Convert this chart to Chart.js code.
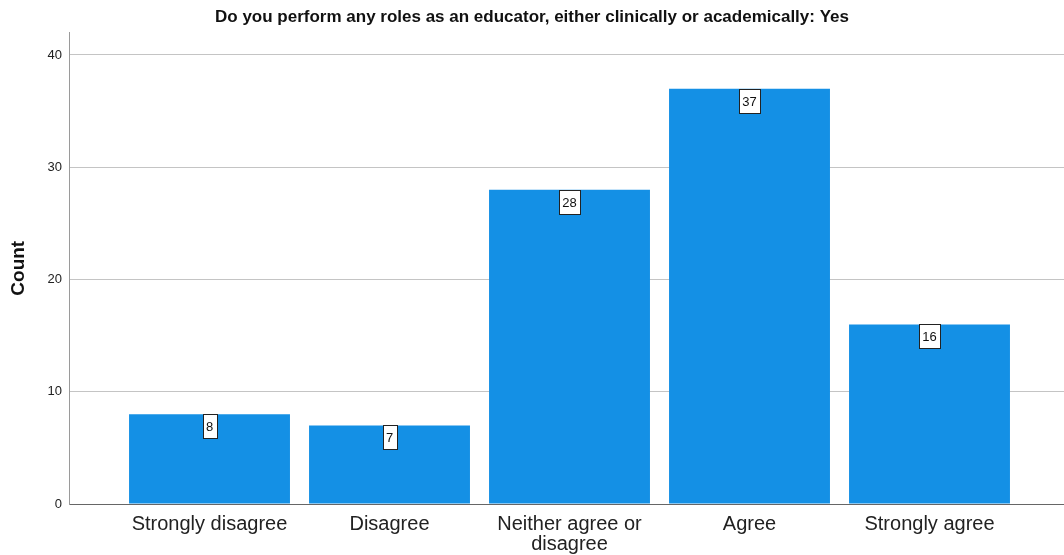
<!DOCTYPE html>
<html>
<head>
<meta charset="utf-8">
<script src="https://cdn.jsdelivr.net/npm/chart.js@4/dist/chart.umd.min.js"></script>
<style>
  html, body { margin: 0; padding: 0; background: #ffffff; }
  #wrap { width: 1064px; height: 555px; position: relative; }
</style>
</head>
<body>
<div id="wrap"><canvas id="c"></canvas></div>
<script>
const titleText = 'Do you perform any roles as an educator, either clinically or academically: Yes';
const categories = ['Strongly disagree', 'Disagree', ['Neither agree or', 'disagree'], 'Agree', 'Strongly agree'];
const counts = [8, 7, 28, 37, 16];
const yTicks = [0, 10, 20, 30, 40];

const FONT = "'Liberation Sans', Arial, Helvetica, sans-serif";

const valueBoxes = {
  id: 'valueBoxes',
  afterDatasetsDraw(chart) {
    const ctx = chart.ctx;
    const meta = chart.getDatasetMeta(0);
    ctx.save();
    ctx.font = '13px ' + FONT;
    ctx.textAlign = 'center';
    ctx.textBaseline = 'middle';
    meta.data.forEach((bar, i) => {
      const txt = String(counts[i]);
      const w = Math.round(ctx.measureText(txt).width + 7);
      const h = 24;
      const x = Math.round(bar.x - w / 2) + 0.5;
      const y = Math.round(bar.y) + 0.5;
      ctx.fillStyle = '#ffffff';
      ctx.fillRect(x, y, w, h);
      ctx.strokeStyle = '#222222';
      ctx.lineWidth = 1;
      ctx.strokeRect(x, y, w, h);
      ctx.fillStyle = '#111111';
      ctx.fillText(txt, bar.x, y + h / 2 + 0.5);
    });
    ctx.restore();
  }
};

new Chart(document.getElementById('c'), {
  type: 'bar',
  data: {
    datasets: [{
      data: counts.map((v, i) => ({ x: i, y: v })),
      backgroundColor: '#1490e5',
      borderWidth: 0,
      barPercentage: 0.894,
      categoryPercentage: 1.0
    }]
  },
  options: {
    responsive: true,
    maintainAspectRatio: false,
    animation: false,
    layout: { padding: { left: 0, right: 0, top: 0, bottom: 0 } },
    plugins: {
      legend: { display: false },
      tooltip: { enabled: false },
      title: {
        display: true,
        text: titleText,
        color: '#111111',
        font: { family: FONT, size: 17, weight: 'bold', lineHeight: 1.2 },
        padding: { top: 7, bottom: 5.1 }
      }
    },
    scales: {
      x: {
        type: 'linear',
        min: -0.7806,
        max: 4.7472,
        offset: false,
        afterBuildTicks(scale) { scale.ticks = categories.map((c, i) => ({ value: i })); },
        afterFit(scale) { scale.height = 51; },
        grid: { display: false, drawTicks: false },
        border: { display: true, color: '#666666', width: 1 },
        ticks: {
          autoSkip: false,
          maxRotation: 0,
          padding: 10,
          color: '#222222',
          font: { family: FONT, size: 20, lineHeight: 1.0 },
          callback: (v) => categories[v]
        }
      },
      y: {
        min: 0,
        max: 42,
        afterBuildTicks(scale) { scale.ticks = yTicks.map(v => ({ value: v })); },
        afterFit(scale) { scale.width = 69; },
        grid: { color: '#c4c4c4', drawTicks: false, lineWidth: 1 },
        border: { display: true, color: '#9a9a9a', width: 1 },
        ticks: {
          padding: 7,
          color: '#222222',
          font: { family: FONT, size: 13 }
        },
        title: {
          display: true,
          text: 'Count',
          color: '#111111',
          font: { family: FONT, size: 19, weight: 'bold' },
          padding: { top: 7, bottom: 0 }
        }
      }
    }
  },
  plugins: [valueBoxes]
});
</script>
</body>
</html>
